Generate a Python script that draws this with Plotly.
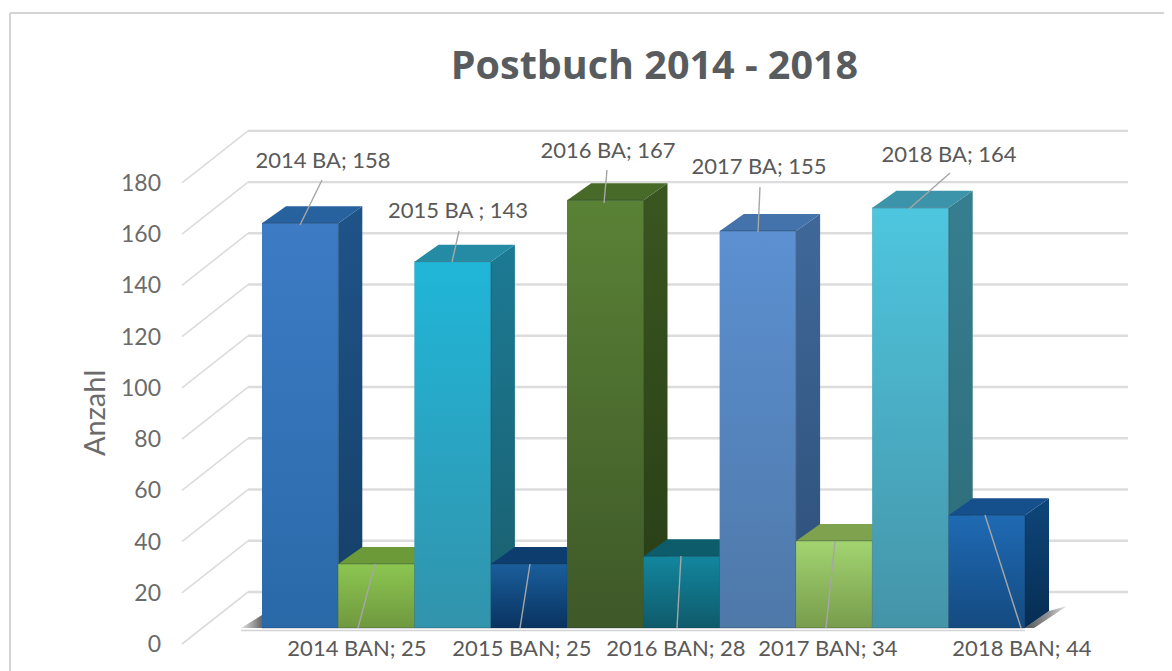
import plotly.graph_objects as go

# ---- data -------------------------------------------------------------
categories = ["2014 BA", "2014 BAN", "2015 BA", "2015 BAN", "2016 BA",
              "2016 BAN", "2017 BA", "2017 BAN", "2018 BA", "2018 BAN"]
values = [158, 25, 143, 25, 167, 28, 155, 34, 164, 44]
separators = ["; ", "; ", " ; ", "; ", "; ", "; ", "; ", "; ", "; ", "; "]
tick_values = [0, 20, 40, 60, 80, 100, 120, 140, 160, 180]
title_text = "Postbuch 2014 - 2018"
y_title = "Anzahl"

# ---- styles -----------------------------------------------------------
front_top = ["#3d7cc5", "#8cc650", "#20b6d8", "#1a5e9c", "#5a8236",
             "#12869e", "#5c90d2", "#a2d470", "#4ec6df", "#1f6ab4"]
front_bot = ["#2a69a8", "#6f983f", "#3293ac", "#093360", "#3e5828",
             "#0f5a6a", "#4e78a8", "#789c4c", "#4594a8", "#144a80"]
side_top = ["#1f5489", "#5c8232", "#1c7a94", "#0b3b6a", "#3a5620",
            "#0b5566", "#3f6899", "#6a8c3e", "#367f90", "#0e467a"]
side_bot = ["#143f66", "#4d6c2a", "#1a5e6e", "#062645", "#283c16",
            "#08404d", "#2d4f78", "#557232", "#2d6a78", "#072d52"]
top_face = ["#27629f", "#6d9a38", "#258ba5", "#0d3d6e", "#476a28",
            "#0d5c6c", "#4472aa", "#7ea24d", "#3b94a9", "#154f8c"]
grid_color = "#dcdcdc"
text_color = "#595959"

# ---- layout geometry (page pixels; the page has an 8 px body margin) ---
PAGE_W, PAGE_H = 1172, 671
OFF = 8
W, H = PAGE_W - OFF, PAGE_H - OFF
LEFT = 162               # page x of plot-area left edge
PX_SLOT = 76.3           # pixels per bar slot
PX_VAL = 2.562           # pixels per value unit
BAR_X0 = 262             # left edge of first bar
BASE_Y = 628             # pixel row of value 0 for the bars
AXIS_Y = 644             # pixel row of value 0 for the front axis ends
DEPTH_X = 24 / PX_SLOT   # bar depth in slots
DEPTH_Y = 17 / PX_VAL    # bar depth in value units
WALL_Y = 52 / PX_VAL     # wall depth in value units


def sx(px):
    return (px - BAR_X0) / PX_SLOT - 0.5


def vy(py):
    return (BASE_Y - py) / PX_VAL


def paper_x(px):
    return (px - LEFT) / (PAGE_W - LEFT)


def paper_y(py):
    return 1 - (py - OFF) / H


x_range = [sx(LEFT), sx(PAGE_W)]
range_bars = [vy(PAGE_H), vy(OFF)]
range_axis = [(AXIS_Y - PAGE_H) / PX_VAL, (AXIS_Y - OFF) / PX_VAL]

fig = go.Figure()

# wall grid and left-side diagonals (front axis scale)
gx, gy, dx, dy = [], [], [], []
for t in tick_values:
    gx += [sx(248), sx(1128), None]
    gy += [t + WALL_Y, t + WALL_Y, None]
    dx += [sx(182), sx(248), None]
    dy += [t, t + WALL_Y, None]
fig.add_trace(go.Scatter(x=gx, y=gy, mode="lines", hoverinfo="skip",
                         line=dict(color=grid_color, width=2.4), showlegend=False))
fig.add_trace(go.Scatter(x=dx, y=dy, mode="lines", hoverinfo="skip",
                         line=dict(color=grid_color, width=1.6), showlegend=False))

# floor shadow and floor line (bar scale)
n = len(values)
fig.add_trace(go.Scatter(
    x=[sx(241), sx(262), sx(262)], y=[0, 13 / PX_VAL, 0], mode="lines", fill="toself",
    fillgradient=dict(type="horizontal",
                      colorscale=[[0, "#e4e4e4"], [0.6, "#9a9a9a"], [1, "#666666"]]),
    line=dict(width=0), hoverinfo="skip", showlegend=False, yaxis="y2"))
fig.add_trace(go.Scatter(
    x=[n - 0.5, n - 0.5 + DEPTH_X, sx(1067), n - 0.5 + 0.12],
    y=[0, DEPTH_Y, 22 / PX_VAL, 0], mode="lines", fill="toself",
    fillgradient=dict(type="horizontal",
                      colorscale=[[0, "#555555"], [0.6, "#9a9a9a"], [1, "#e8e8e8"]]),
    line=dict(width=0), hoverinfo="skip", showlegend=False, yaxis="y2"))
fig.add_trace(go.Scatter(
    x=[sx(241), n - 0.5], y=[-1.0, -1.0], mode="lines", hoverinfo="skip",
    line=dict(color="#d4d4d4", width=1.6), showlegend=False, yaxis="y2"))

# side and top faces, beneath the fronts
for i, v in enumerate(values):
    r = i + 0.5
    fig.add_trace(go.Scatter(
        x=[r, r + DEPTH_X, r + DEPTH_X, r],
        y=[0, DEPTH_Y, v + DEPTH_Y, v], mode="lines", fill="toself",
        fillgradient=dict(type="vertical",
                          colorscale=[[0, side_bot[i]], [1, side_top[i]]]),
        line=dict(width=0), hoverinfo="skip", showlegend=False, yaxis="y2"))
for i, v in enumerate(values):
    l, r = i - 0.5, i + 0.5
    fig.add_trace(go.Scatter(
        x=[l, l + DEPTH_X, r + DEPTH_X, r],
        y=[v, v + DEPTH_Y, v + DEPTH_Y, v], mode="lines", fill="toself",
        fillcolor=top_face[i], line=dict(width=0), hoverinfo="skip",
        showlegend=False, yaxis="y2"))

# the bars themselves
fig.add_trace(go.Bar(
    x=list(range(n)), y=values, width=1, yaxis="y3", showlegend=False,
    customdata=categories, hovertemplate="%{customdata}: %{y}<extra></extra>",
    marker=dict(color=front_bot, line=dict(width=0))))
# front gradients
for i, v in enumerate(values):
    l, r = i - 0.5, i + 0.5
    fig.add_trace(go.Scatter(
        x=[l, r, r, l], y=[0, 0, v, v], mode="lines", fill="toself",
        fillgradient=dict(type="vertical",
                          colorscale=[[0, front_bot[i]], [1, front_top[i]]]),
        line=dict(color="rgba(30,45,60,0.35)", width=1), hoverinfo="skip",
        showlegend=False, yaxis="y3"))

# data labels with leader lines: label centre and leader end points, in page pixels
label_px = [(323, 162), (357, 650), (458, 212), (522, 650), (608, 152),
            (676, 650), (759, 168), (828, 650), (949, 156), (1022, 650)]
leader_px = [((322, 180), (300, 225)), ((375, 564), (358, 628)),
             ((459, 231), (452, 262)), ((530, 564), (520, 628)),
             ((607, 170), (604, 203)), ((681, 556), (677, 628)),
             ((760, 187), (758, 232)), ((835, 541), (826, 628)),
             ((950, 173), (909, 209)), ((985, 515), (1021, 628))]
lx, ly = [], []
for a, b in leader_px:
    lx += [sx(a[0]), sx(b[0]), None]
    ly += [vy(a[1]), vy(b[1]), None]
fig.add_trace(go.Scatter(x=lx, y=ly, mode="lines", hoverinfo="skip",
                         line=dict(color="#a6a6a6", width=1.4),
                         showlegend=False, yaxis="y4"))
fig.add_trace(go.Scatter(
    x=[sx(p[0]) for p in label_px], y=[vy(p[1]) for p in label_px],
    mode="text", hoverinfo="skip", showlegend=False, yaxis="y4",
    text=[f"{c}{s}{v}" for c, s, v in zip(categories, separators, values)],
    textposition="middle center",
    textfont=dict(family="Lato, sans-serif", size=22, color=text_color)))

hidden = dict(overlaying="y", visible=False, range=range_bars, fixedrange=True)
fig.update_layout(
    width=W, height=H, autosize=False,
    margin=dict(l=LEFT - OFF, r=0, t=0, b=0, pad=0),
    paper_bgcolor="white", plot_bgcolor="rgba(0,0,0,0)",
    hovermode="closest", showlegend=False, barmode="overlay",
    xaxis=dict(range=x_range, visible=False, fixedrange=True),
    yaxis=dict(range=range_axis, tickvals=tick_values, showgrid=False, zeroline=False,
               showline=False, ticks="", fixedrange=True,
               tickfont=dict(family="Lato, sans-serif", size=23, color="#6b6b6b")),
    yaxis2=hidden, yaxis3=hidden, yaxis4=hidden,
    title=dict(text=f"<b>{title_text}</b>", x=(654.5 - OFF) / W, xanchor="center",
               xref="container", y=1 - (65 - OFF) / H, yanchor="middle", yref="container",
               font=dict(family="Open Sans, sans-serif", size=39.5, color="#595c5f")),
    annotations=[dict(text=y_title, textangle=-90, showarrow=False,
                      xref="paper", yref="paper",
                      x=paper_x(93), y=paper_y(413),
                      xanchor="center", yanchor="middle",
                      font=dict(family="Lato, sans-serif", size=29, color="#6b6b6b"))],
    shapes=[dict(type="line", xref="paper", yref="paper", layer="below",
                 x0=paper_x(10), x1=paper_x(PAGE_W + 5), y0=paper_y(13), y1=paper_y(13),
                 line=dict(color="#d4d4d4", width=2)),
            dict(type="line", xref="paper", yref="paper", layer="below",
                 x0=paper_x(10), x1=paper_x(10), y0=paper_y(13), y1=paper_y(PAGE_H + 5),
                 line=dict(color="#d4d4d4", width=2))],
)

fig.write_html("out.html")
